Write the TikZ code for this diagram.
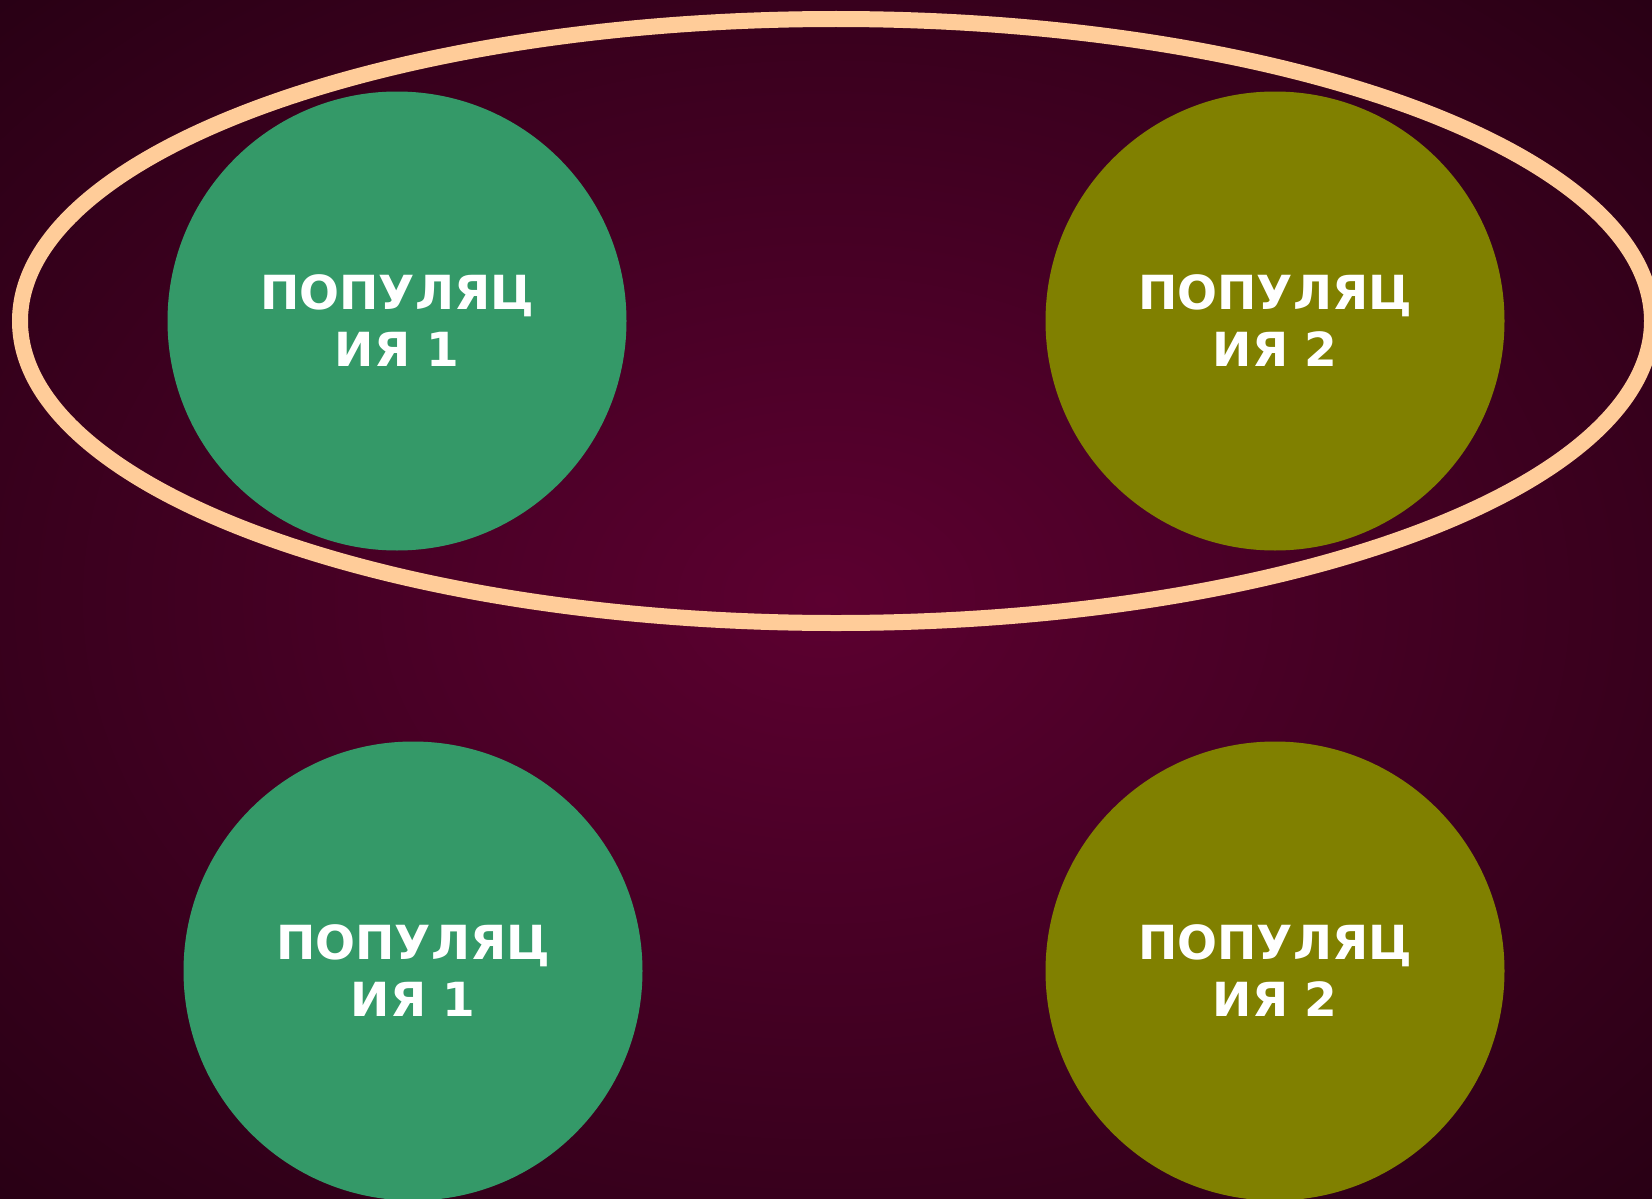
\documentclass[tikz,border=0pt]{standalone}
\usepackage{fontspec}
\setmainfont{DejaVu Sans}[BoldFont={DejaVu Sans Bold}]
\newfontfamily\popfont{DejaVu Sans Bold}
\definecolor{bgin}{RGB}{92,0,48}
\definecolor{bgout}{RGB}{40,0,20}
\definecolor{popgreen}{RGB}{52,153,104}
\definecolor{popolive}{RGB}{128,128,0}
\definecolor{peach}{RGB}{255,204,153}
\pgfdeclareradialshading{bgshade}{\pgfpoint{0bp}{0bp}}{color(0bp)=(bgin); color(36bp)=(bgout); color(50bp)=(bgout)}
\tikzset{
  pop/.style={circle, minimum size=459pt, inner sep=0pt, text=white, align=center,
    font=\popfont\fontsize{47}{57}\selectfont},
  popA/.style={pop, fill=popgreen},
  popB/.style={pop, fill=popolive},
  ring/.style={draw=peach, line width=16pt}
}
\begin{document}
\begin{tikzpicture}[x=1pt,y=-1pt]
\useasboundingbox (0,0) rectangle (1652,1199);
\shade[shading=bgshade] (0,0) rectangle (1652,1199);
\draw[ring] (836,321) ellipse [x radius=816, y radius=302];
\node[popA] (p1a) at (397,321) {ПОПУЛЯЦ\\ИЯ 1};
\node[popB] (p2a) at (1275,321) {ПОПУЛЯЦ\\ИЯ 2};
\node[popA] (p1b) at (413,971) {ПОПУЛЯЦ\\ИЯ 1};
\node[popB] (p2b) at (1275,971) {ПОПУЛЯЦ\\ИЯ 2};
\end{tikzpicture}
\end{document}
